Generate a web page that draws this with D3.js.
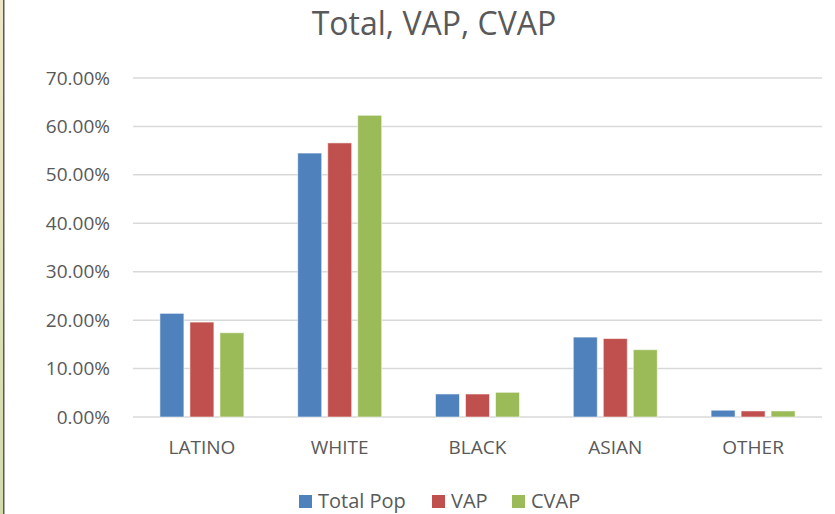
<!DOCTYPE html>
<html>
<head>
<meta charset="utf-8">
<script src="https://cdn.jsdelivr.net/npm/d3@7"></script>
<style>
  body { margin: 0; background: #fff; }
  svg { display: block; font-family: "Open Sans", sans-serif; }
</style>
</head>
<body>
<div id="chart"></div>
<script>
const categories = ["LATINO", "WHITE", "BLACK", "ASIAN", "OTHER"];
const seriesNames = ["Total Pop", "VAP", "CVAP"];
const totalPop = [0.214, 0.545, 0.0475, 0.165, 0.014];
const vap = [0.196, 0.566, 0.0475, 0.162, 0.0125];
const cvap = [0.174, 0.623, 0.051, 0.139, 0.0125];
const yTicks = [0, 0.1, 0.2, 0.3, 0.4, 0.5, 0.6, 0.7];
const colors = ["#4F81BD", "#C0504D", "#9BBB59"];

const width = 835, height = 514;
const values = [totalPop, vap, cvap];
const rows = categories.map((c, i) => ({ cat: c, vals: values.map(v => v[i]) }));

const svg = d3.select("#chart").append("svg")
    .attr("width", width)
    .attr("height", height);

// the bit of spreadsheet showing at the left edge
const grad = svg.append("defs").append("linearGradient")
    .attr("id", "edge").attr("x1", 0).attr("y1", 0).attr("x2", 0).attr("y2", 1);
grad.append("stop").attr("offset", "0%").attr("stop-color", "#eee6c6");
grad.append("stop").attr("offset", "100%").attr("stop-color", "#d3dbab");
svg.append("rect").attr("x", 0).attr("y", 0).attr("width", 3).attr("height", height).attr("fill", "url(#edge)");
svg.append("rect").attr("x", 3).attr("y", 0).attr("width", 1.5).attr("height", height).attr("fill", "#5a5a5a");

const x0 = d3.scaleBand().domain(categories).range([133, 822]).padding(0);
const x1 = d3.scaleBand().domain(seriesNames)
    .range([(x0.bandwidth() - 84) / 2, (x0.bandwidth() + 84) / 2])
    .paddingInner(0.2);
const y = d3.scaleLinear().domain([0, 0.7]).range([417, 78]);
const color = d3.scaleOrdinal().domain(seriesNames).range(colors);

// gridlines
svg.append("g")
    .selectAll("line")
    .data(yTicks)
    .join("line")
    .attr("x1", 133)
    .attr("x2", 822)
    .attr("y1", d => y(d))
    .attr("y2", d => y(d))
    .attr("stroke", "#d9d9d9")
    .attr("stroke-width", 1.5);

// y axis labels
svg.append("g")
    .attr("transform", "translate(110,0)")
    .call(d3.axisLeft(y).tickValues(yTicks).tickFormat(d3.format(".2%")).tickSize(0).tickPadding(0))
    .call(g => g.select(".domain").remove())
    .call(g => g.selectAll("text")
        .attr("fill", "#595959")
        .attr("font-size", 19)
        .attr("font-family", "Open Sans, sans-serif"));

// bars
svg.append("g")
    .selectAll("g")
    .data(rows)
    .join("g")
    .attr("transform", d => `translate(${x0(d.cat)},0)`)
    .selectAll("rect")
    .data(d => d.vals.map((v, i) => ({ key: seriesNames[i], value: v })))
    .join("rect")
    .attr("x", d => x1(d.key))
    .attr("width", x1.bandwidth())
    .attr("y", d => y(d.value))
    .attr("height", d => y(0) - y(d.value))
    .attr("fill", d => color(d.key))
    .attr("stroke", "#ffffff")
    .attr("stroke-opacity", 0.55)
    .attr("stroke-width", 1);

// category labels
svg.append("g")
    .attr("transform", "translate(0,440)")
    .call(d3.axisBottom(x0).tickSize(0).tickPadding(0))
    .call(g => g.select(".domain").remove())
    .call(g => g.selectAll("text")
        .attr("fill", "#595959")
        .attr("font-size", 19)
        .attr("font-family", "Open Sans, sans-serif"));

// title
svg.append("text")
    .attr("x", 434)
    .attr("y", 35)
    .attr("text-anchor", "middle")
    .attr("fill", "#595959")
    .attr("font-size", 32)
    .text("Total, VAP, CVAP");

// legend
const legendX = [299, 432, 512];
const legend = svg.append("g")
    .selectAll("g")
    .data(seriesNames)
    .join("g")
    .attr("transform", (d, i) => `translate(${legendX[i]},495)`);
legend.append("rect")
    .attr("width", 13)
    .attr("height", 13)
    .attr("fill", d => color(d));
legend.append("text")
    .attr("x", 19)
    .attr("y", 13)
    .attr("fill", "#595959")
    .attr("font-size", 20)
    .text(d => d);
</script>
</body>
</html>
